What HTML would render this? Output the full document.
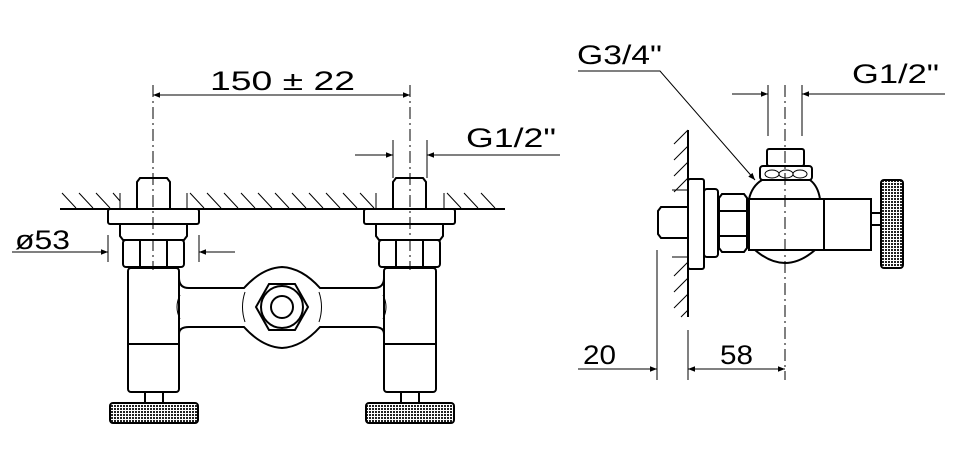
<!DOCTYPE html>
<html><head><meta charset="utf-8"><style>
html,body{margin:0;padding:0;background:#fff;}
svg{display:block;}
text{font-family:"Liberation Sans",sans-serif;font-size:27px;fill:#000;}
</style></head><body>
<svg width="963" height="465" viewBox="0 0 963 465" xmlns="http://www.w3.org/2000/svg">
<defs>
<marker id="a" viewBox="0 0 10 10" refX="10" refY="5" markerWidth="14" markerHeight="7" orient="auto-start-reverse" markerUnits="userSpaceOnUse"><path d="M0,1 L10,5 L0,9 Z" fill="#000"/></marker>
<pattern id="k" width="3" height="3" patternUnits="userSpaceOnUse"><rect width="3" height="3" fill="#fff"/><rect width="2" height="2" fill="#222"/></pattern>
</defs>
<g stroke="#000" fill="none" stroke-width="1.3">
<line x1="60" y1="209" x2="505" y2="209" stroke-width="2"/>
<g stroke-width="1">
<path d="M62,193 l14,15 M79,193 l14,15 M96,193 l14,15 M113,193 l7,8 M190,193 l14,15 M207,193 l14,15 M224,193 l14,15 M241,193 l14,15 M258,193 l14,15 M275,193 l14,15 M292,193 l14,15 M309,193 l14,15 M326,193 l14,15 M343,193 l14,15 M360,193 l14,15 M447,193 l14,15 M464,193 l14,15 M481,193 l14,15"/>
<line x1="120" y1="193" x2="120" y2="209"/><line x1="187" y1="193" x2="187" y2="209"/>
<line x1="376" y1="193" x2="376" y2="209"/><line x1="444" y1="193" x2="444" y2="209"/>
</g>
<g stroke-width="2">
<path d="M137,209 V182 l3,-4 h27 l3,4 V209"/>
<rect x="108" y="209" width="91" height="15" rx="2"/>
<path d="M120,224 v12 l3,4 h61 l3,-4 v-12"/>
<rect x="123" y="240" width="61" height="27" rx="3"/>
<line x1="140" y1="240" x2="140" y2="267"/><line x1="167" y1="240" x2="167" y2="267"/>
<rect x="128" y="268" width="51" height="124" rx="3"/>
<line x1="128" y1="344" x2="179" y2="344"/>
<rect x="145" y="392" width="18" height="11"/>
<rect x="110" y="403" width="88" height="20" rx="3" fill="url(#k)"/>
<path d="M393,209 V182 l3,-4 h27 l3,4 V209"/>
<rect x="364" y="209" width="91" height="15" rx="2"/>
<path d="M376,224 v12 l3,4 h61 l3,-4 v-12"/>
<rect x="379" y="240" width="61" height="27" rx="3"/>
<line x1="396" y1="240" x2="396" y2="267"/><line x1="423" y1="240" x2="423" y2="267"/>
<rect x="384" y="268" width="52" height="124" rx="3"/>
<line x1="384" y1="344" x2="436" y2="344"/>
<rect x="401" y="392" width="18" height="11"/>
<rect x="366" y="403" width="88" height="20" rx="3" fill="url(#k)"/>
<path d="M179,278 q0,10 10,10 H244 Q262,268 282,267 Q302,268 320,288 H374 q10,0 10,-10 M179,334 q0,-7 10,-7 H244 Q262,347 282,348 Q302,347 320,327 H374 q10,0 10,7" fill="#fff"/>
<polygon points="308,307 295,330 269,330 256,307 269,284 295,284" fill="#fff"/>
<circle cx="282" cy="307" r="21"/>
<circle cx="282" cy="307" r="11"/>
</g>
<g stroke-width="1"><path d="M180,295 q-6,12 0,24 M245,292 q-5,15 0,30 M319,292 q5,15 0,30 M383,295 q6,12 0,24"/></g>
<g stroke-width="1" stroke-dasharray="12,4,2,4">
<line x1="153" y1="85" x2="153" y2="270"/><line x1="410" y1="85" x2="410" y2="270"/>
</g>
<g stroke-width="1">
<line x1="153" y1="95" x2="410" y2="95" marker-start="url(#a)" marker-end="url(#a)"/>
<line x1="393" y1="140" x2="393" y2="178"/><line x1="427" y1="140" x2="427" y2="178"/>
<line x1="355" y1="155" x2="393" y2="155" marker-end="url(#a)"/>
<line x1="560" y1="155" x2="427" y2="155" marker-end="url(#a)"/>
<line x1="108" y1="235" x2="108" y2="262"/><line x1="199" y1="235" x2="199" y2="262"/>
<line x1="12" y1="252" x2="108" y2="252" marker-end="url(#a)"/>
<line x1="235" y1="252" x2="199" y2="252" marker-end="url(#a)"/>
</g>
<line x1="688" y1="130" x2="688" y2="317" stroke-width="2"/>
<g stroke-width="1">
<path d="M688,130 l-14,14 M688,146 l-14,14 M688,162 l-14,14 M688,178 l-14,14 M688,262 l-14,14 M688,278 l-14,14 M688,294 l-14,14 M688,310 l-7,7"/>
<line x1="672" y1="190" x2="688" y2="190"/><line x1="672" y1="257" x2="688" y2="257"/>
</g>
<g stroke-width="2">
<rect x="688" y="179" width="16" height="90" rx="2"/>
<rect x="704" y="189" width="14" height="68" rx="3"/>
<path d="M688,207 H661 l-3,4 v23 l3,4 H688"/>
<path d="M722,194 h22 l3,4 v50 l-3,4 h-22 l-3,-4 v-50 z"/>
<line x1="720" y1="211" x2="747" y2="211"/><line x1="720" y1="236" x2="747" y2="236"/>
<rect x="749" y="199" width="75" height="51"/>
<rect x="824" y="199" width="47" height="51"/>
<path d="M755,250 Q770,263 785,263 Q800,263 815,250"/>
<path d="M749,199 Q752,186 762,180 H810 Q818,186 820,199"/>
<rect x="760" y="166" width="52" height="14" rx="3"/>
<rect x="767" y="149" width="37" height="17" rx="2"/>
<rect x="871" y="213" width="11" height="12"/>
<rect x="881" y="180" width="22" height="88" rx="3" fill="url(#k)"/>
</g>
<g stroke-width="1"><ellipse cx="772" cy="174" rx="7" ry="4"/><ellipse cx="786" cy="174" rx="7" ry="4"/><ellipse cx="800" cy="174" rx="7" ry="4"/></g>
<line x1="785" y1="85" x2="785" y2="380" stroke-width="1" stroke-dasharray="12,4,2,4"/>
<g stroke-width="1">
<line x1="768" y1="85" x2="768" y2="136"/><line x1="802" y1="85" x2="802" y2="136"/>
<line x1="732" y1="94" x2="768" y2="94" marker-end="url(#a)"/>
<line x1="945" y1="94" x2="802" y2="94" marker-end="url(#a)"/>
<polyline points="578,71 660,71 755,180" marker-end="url(#a)"/>
<line x1="657" y1="250" x2="657" y2="380"/><line x1="688" y1="330" x2="688" y2="380"/>
<line x1="578" y1="369" x2="657" y2="369" marker-end="url(#a)"/>
<line x1="688" y1="369" x2="785" y2="369" marker-start="url(#a)" marker-end="url(#a)"/>
</g>
</g>
<text x="210" y="90" textLength="145" lengthAdjust="spacingAndGlyphs">150 ± 22</text>
<text x="466" y="147" textLength="90" lengthAdjust="spacingAndGlyphs">G1/2"</text>
<text x="15" y="249" textLength="55" lengthAdjust="spacingAndGlyphs">ø53</text>
<text x="577" y="64" textLength="85" lengthAdjust="spacingAndGlyphs">G3/4"</text>
<text x="852" y="83" textLength="87" lengthAdjust="spacingAndGlyphs">G1/2"</text>
<text x="583" y="364" textLength="33" lengthAdjust="spacingAndGlyphs">20</text>
<text x="720" y="364" textLength="33" lengthAdjust="spacingAndGlyphs">58</text>
</svg>
</body></html>
